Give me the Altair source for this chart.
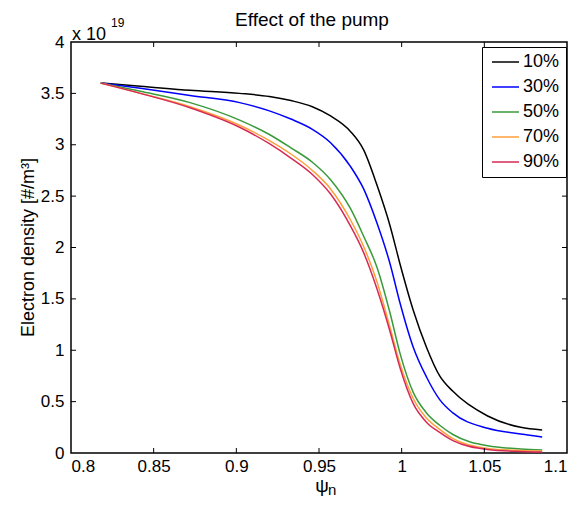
import altair as alt
import pandas as pd

# ---- data ----
psi = [0.818, 0.842, 0.872, 0.902, 0.920, 0.933, 0.946, 0.957, 0.969, 0.977,
       0.985, 0.993, 0.999, 1.007, 1.015, 1.023, 1.031, 1.052, 1.072, 1.085]
ne_10 = [3.60, 3.57, 3.53, 3.50, 3.47, 3.43, 3.37, 3.28, 3.13, 2.95,
         2.61, 2.21, 1.84, 1.39, 1.03, 0.75, 0.60, 0.36, 0.25, 0.225]
ne_30 = [3.60, 3.55, 3.48, 3.41, 3.33, 3.25, 3.15, 3.02, 2.79, 2.57,
         2.24, 1.84, 1.46, 1.03, 0.74, 0.52, 0.39, 0.24, 0.185, 0.156]
ne_50 = [3.60, 3.52, 3.41, 3.24, 3.10, 2.97, 2.83, 2.66, 2.38, 2.11,
         1.81, 1.36, 0.97, 0.59, 0.39, 0.27, 0.18, 0.07, 0.04, 0.03]
ne_70 = [3.60, 3.50, 3.37, 3.19, 3.04, 2.91, 2.75, 2.57, 2.27, 2.01,
         1.67, 1.22, 0.87, 0.53, 0.34, 0.23, 0.14, 0.045, 0.025, 0.02]
ne_90 = [3.60, 3.50, 3.36, 3.17, 3.01, 2.87, 2.71, 2.52, 2.21, 1.95,
         1.60, 1.18, 0.83, 0.48, 0.30, 0.20, 0.12, 0.035, 0.015, 0.01]
series_names = ["10%", "30%", "50%", "70%", "90%"]
series_colors = ["#000000", "#0000ff", "#3a9a3a", "#ff9f3a", "#d62a56"]
x_ticks = [0.8, 0.85, 0.9, 0.95, 1.0, 1.05, 1.1]
y_ticks = [0, 0.5, 1, 1.5, 2, 2.5, 3, 3.5, 4]

rows = []
for name, vals in zip(series_names, [ne_10, ne_30, ne_50, ne_70, ne_90]):
    for xv, yv in zip(psi, vals):
        rows.append({"psi": xv, "ne": yv, "pump": name})
df = pd.DataFrame(rows)

FONT = "Liberation Sans"
W, H = 496, 411
xscale = alt.Scale(domain=[0.8, 1.1], nice=False, zero=False)
yscale = alt.Scale(domain=[0, 4], nice=False)

lines = alt.Chart(df).mark_line(strokeWidth=1.5, interpolate="monotone").encode(
    x=alt.X("psi:Q", scale=xscale,
            axis=alt.Axis(values=x_ticks, format="~g", ticks=False, domain=False,
                          grid=False, labelPadding=5, labelFontSize=17,
                          labelFont=FONT, labelColor="black", title=None)),
    y=alt.Y("ne:Q", scale=yscale,
            axis=alt.Axis(values=y_ticks, format="~g", ticks=False, domain=False,
                          grid=False, labelPadding=7, labelFontSize=17,
                          labelFont=FONT, labelColor="black",
                          title="Electron density [#/m³]", titleFont=FONT,
                          titleFontSize=18, titleFontWeight="normal",
                          titleColor="black", titleX=-43, titleY=205,
                          titleBaseline="middle")),
    color=alt.Color("pump:N",
                    scale=alt.Scale(domain=series_names, range=series_colors),
                    legend=alt.Legend(title=None, orient="none", legendX=411,
                                      legendY=5, symbolType="M-1,0H4.4",
                                      symbolSize=100, symbolStrokeWidth=1.5,
                                      labelOffset=17, labelFontSize=18,
                                      labelFont=FONT, labelColor="black",
                                      rowPadding=7, padding=6,
                                      strokeColor="black", fillColor="white")),
)

xt = pd.DataFrame({"t": x_ticks[1:-1]})
yt = pd.DataFrame({"t": y_ticks[1:-1]})
tick_style = dict(color="black", strokeWidth=1)
bottom_ticks = alt.Chart(xt).mark_rule(**tick_style).encode(
    x=alt.X("t:Q", scale=xscale), y=alt.value(H), y2=alt.value(H - 5))
top_ticks = alt.Chart(xt).mark_rule(**tick_style).encode(
    x=alt.X("t:Q", scale=xscale), y=alt.value(0), y2=alt.value(5))
left_ticks = alt.Chart(yt).mark_rule(**tick_style).encode(
    y=alt.Y("t:Q", scale=yscale), x=alt.value(0), x2=alt.value(5))
right_ticks = alt.Chart(yt).mark_rule(**tick_style).encode(
    y=alt.Y("t:Q", scale=yscale), x=alt.value(W), x2=alt.value(W - 5))

one = pd.DataFrame({"a": [0]})
def label(text, x, y, size, align="left"):
    return alt.Chart(one).mark_text(font=FONT, fontSize=size, color="black",
                                    align=align, baseline="alphabetic").encode(
        x=alt.value(x), y=alt.value(y), text=alt.value(text))

ann = (label("Effect of the pump", 241, -16, 19, "center")
       + label("ψ", 251, 450, 19, "center") + label("n", 257, 453, 15)
       + label("x 10", 1, -2, 18) + label("19", 40, -15, 12))

chart = alt.layer(lines, bottom_ticks, top_ticks, left_ticks, right_ticks, ann).properties(
    width=W, height=H,
    autosize=alt.AutoSizeParams(type="none"),
    padding={"left": 63, "top": 34, "right": 6, "bottom": 44},
).configure_view(stroke="black", strokeWidth=1.5).configure_legend(strokeWidth=1)

chart.save("out.html", embed_options={"renderer": "svg", "actions": False})
